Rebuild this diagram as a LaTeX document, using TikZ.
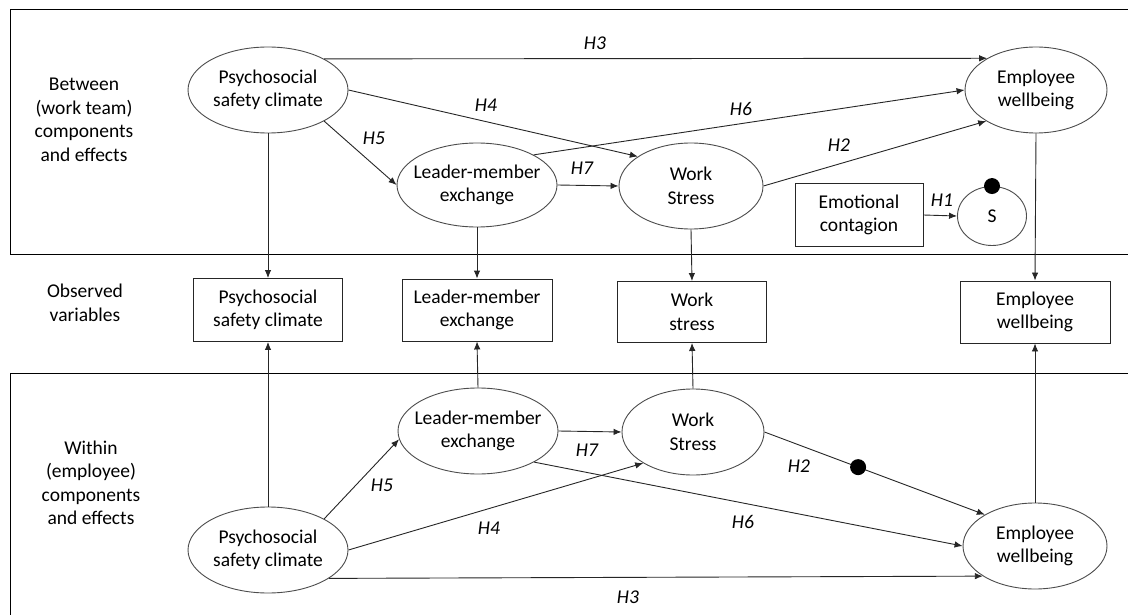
\documentclass[tikz,border=0pt]{standalone}
\usepackage{fontspec}
\setmainfont{Carlito}
\usetikzlibrary{arrows.meta,shapes.geometric}
\newcommand\dgsize{\fontsize{19.5pt}{23.5pt}\selectfont}
\begin{document}
\begin{tikzpicture}[x=1pt,y=-1pt,
 ell/.style={ellipse,draw=black!70,line width=0.9pt,inner sep=0pt},
 box/.style={rectangle,draw=black!85,line width=0.9pt,inner sep=0pt},
 txt/.style={font=\dgsize,align=center,inner sep=0pt},
 hyp/.style={font=\dgsize\itshape,inner sep=0pt},
 arr/.style={draw=black!85,line width=0.9pt,-{Latex[length=8pt,width=6.5pt]}},
 ln/.style={draw=black!85,line width=0.9pt},
 dot/.style={circle,fill=black,inner sep=0pt,minimum size=16pt}]
\useasboundingbox (0,0) rectangle (1128,615);
\fill[white] (0,0) rectangle (1128,615);
\clip (0,0) rectangle (1128,615);

% frames
\draw[ln,draw=black] (10,9) rectangle (1140,254);
\draw[ln,draw=black] (10,373) rectangle (1140,640);

% side labels
\node[txt] (lblA) at (84,120) {Between\\(work team)\\components\\and effects};
\node[txt] (lblB) at (85,303) {Observed\\variables};
\node[txt] (lblC) at (91,483) {Within\\(employee)\\components\\and effects};

% top (between) latent variables
\node[ell,minimum width=160pt,minimum height=86pt] (pscT) at (268,90) {};
\node[txt] (pscTt) at (pscT) {Psychosocial\\safety climate};
\node[ell,minimum width=142pt,minimum height=86pt] (ewT) at (1036,90) {};
\node[txt] (ewTt) at (ewT) {Employee\\wellbeing};
\node[ell,minimum width=160pt,minimum height=84pt] (lmxT) at (477,185) {};
\node[txt] (lmxTt) at (lmxT) {Leader-member\\exchange};
\node[ell,minimum width=144pt,minimum height=86pt] (wsT) at (691,186) {};
\node[txt] (wsTt) at (wsT) {Work\\Stress};
\node[box,minimum width=128pt,minimum height=63pt] (ec) at (859,215) {};
\node[txt] (ect) at (ec) {Emotional\\contagion};
\node[ell,minimum width=69pt,minimum height=59pt] (sC) at (992,216) {};
\node[txt] (sCt) at (sC) {S};
\node[dot] (sDot) at (sC.north) {};

% observed variables
\node[box,minimum width=149pt,minimum height=63pt] (pscO) at (268,310) {};
\node[txt] (pscOt) at (pscO) {Psychosocial\\safety climate};
\node[box,minimum width=150pt,minimum height=62pt] (lmxO) at (477,310) {};
\node[txt] (lmxOt) at (lmxO) {Leader-member\\exchange};
\node[box,minimum width=149pt,minimum height=61pt] (wsO) at (692,312) {};
\node[txt] (wsOt) at (wsO) {Work\\stress};
\node[box,minimum width=150pt,minimum height=62pt] (ewO) at (1035,312) {};
\node[txt] (ewOt) at (ewO) {Employee\\wellbeing};

% bottom (within) latent variables
\node[ell,minimum width=160pt,minimum height=86pt] (pscB) at (268,550) {};
\node[txt] (pscBt) at (pscB) {Psychosocial\\safety climate};
\node[ell,minimum width=160pt,minimum height=86pt] (lmxB) at (478,431) {};
\node[txt] (lmxBt) at (lmxB) {Leader-member\\exchange};
\node[ell,minimum width=142pt,minimum height=86pt] (wsB) at (693,432) {};
\node[txt] (wsBt) at (wsB) {Work\\Stress};
\node[ell,minimum width=144pt,minimum height=86pt] (ewB) at (1035,546) {};
\node[txt] (ewBt) at (ewB) {Employee\\wellbeing};

% top connectors
\draw[arr] (pscT.29.4) -- (ewT.147.7);
\draw[arr] (pscT.east) -- (wsT.151);
\draw[arr] (pscT.-29) -- (lmxT.west);
\draw[arr] (lmxT.28) -- (ewT.west);
\draw[arr] (lmxT.east) -- (wsT.west);
\draw[arr] (wsT.east) -- (ewT.212);
\draw[arr] (ec.east) -- (sC.west);

% verticals
\draw[arr] (pscT.south) -- (pscO.north);
\draw[arr] (lmxT.south) -- (lmxO.north);
\draw[arr] (wsT.south) -- (wsO.north);
\draw[arr] (ewT.south) -- (ewO.north);
\draw[arr] (pscB.north) -- (pscO.south);
\draw[arr] (lmxB.north) -- (lmxO.south);
\draw[arr] (wsB.north) -- (wsO.south);
\draw[arr] (ewB.north) -- (ewO.south);

% bottom connectors
\draw[arr] (pscB.29) -- (lmxB.186);
\draw[arr] (pscB.east) -- (wsB.212);
\draw[arr] (pscB.-25) -- (ewB.210);
\draw[arr] (lmxB.-29) -- (ewB.west);
\draw[arr] (lmxB.east) -- (wsB.west);
\draw[arr] (wsB.east) -- node[dot,pos=0.425] (h2dot) {} (ewB.148);

% hypothesis labels
\node[hyp] (h3t) at (595,43) {H3};
\node[hyp] (h4t) at (486,105) {H4};
\node[hyp] (h5t) at (374,138) {H5};
\node[hyp] (h6t) at (741,109) {H6};
\node[hyp] (h2t) at (839,145) {H2};
\node[hyp] (h7t) at (582,168) {H7};
\node[hyp] (h1t) at (942,200) {H1};
\node[hyp] (h7b) at (587,450) {H7};
\node[hyp] (h5b) at (382,485) {H5};
\node[hyp] (h4b) at (489,528) {H4};
\node[hyp] (h2b) at (799,466) {H2};
\node[hyp] (h6b) at (743,522) {H6};
\node[hyp] (h3b) at (628,597) {H3};
\end{tikzpicture}
\end{document}
